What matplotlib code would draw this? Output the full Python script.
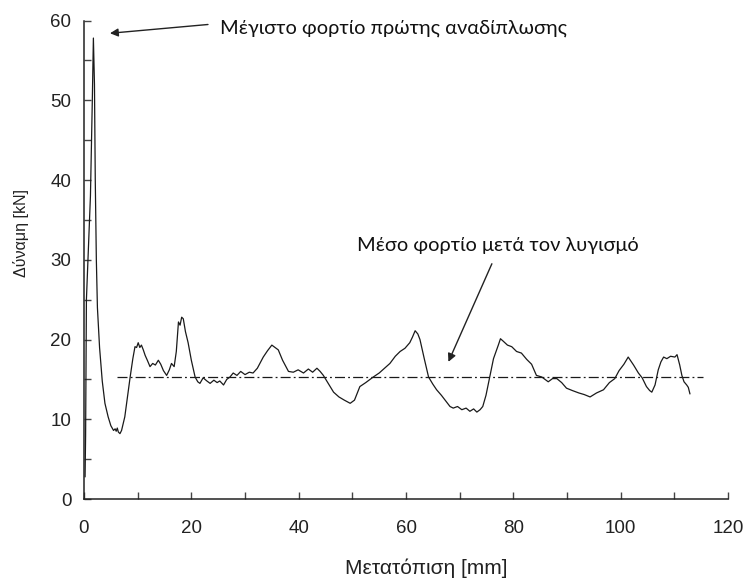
import matplotlib
matplotlib.use("Agg")
import matplotlib.pyplot as plt
import numpy as np

# displacement [mm] and force [kN]
metatopisi = [0.2, 0.3, 0.45, 0.8, 1.2, 1.55, 1.75, 1.95, 2.1, 2.3, 2.5, 2.9, 3.4, 3.9, 4.5,
              5.0, 5.5, 5.8, 6.0, 6.2, 6.4, 6.7, 7.0, 7.6, 8.1, 8.6, 9.1, 9.5, 9.8, 10.1,
              10.4, 10.7, 11.05, 11.4, 11.8, 12.3, 12.8, 13.3, 13.85, 14.3, 14.8, 15.4,
              15.9, 16.3, 16.8, 17.2, 17.6, 17.9, 18.2, 18.5, 18.9, 19.4, 20.0, 20.7,
              21.2, 21.6, 22.2, 22.9, 23.5, 24.2, 24.8, 25.3, 26.0, 26.6, 27.2, 27.8,
              28.5, 29.2, 30.0, 30.8, 31.5, 32.3, 33.4, 34.2, 35.0, 35.6, 36.2, 37.0,
              38.1, 39.0, 39.9, 40.9, 41.8, 42.6, 43.4, 44.0, 44.6, 45.5, 46.5, 47.5,
              48.5, 49.6, 50.4, 51.4, 52.5, 53.9, 55.0, 56.0, 57.0, 58.0, 58.9, 59.8,
              60.7, 61.2, 61.7, 62.2, 62.6, 63.4, 64.2, 65.0, 65.7, 66.6, 67.5, 68.2,
              68.8, 69.6, 70.4, 71.2, 71.9, 72.6, 73.2, 73.8, 74.3, 74.9, 75.6, 76.3,
              77.2, 77.6, 78.1, 78.9, 79.7, 80.6, 81.5, 82.5, 83.4, 84.3, 85.3, 86.5,
              87.3, 88.1, 89.0, 89.9, 91.0, 92.2, 93.2, 94.3, 95.5, 96.8, 97.9, 98.9,
              99.7, 100.6, 101.4, 101.9, 102.4, 103.3, 104.0, 104.8, 105.4, 105.8,
              106.4, 107.0, 107.5, 108.0, 108.6, 109.3, 110.1, 110.5, 111.0, 111.4,
              111.8, 112.3, 112.6, 112.9]
dynami = [2.8, 8.0, 25.0, 31.0, 38.0, 50.0, 57.8, 52.0, 40.0, 30.0, 24.0, 19.0, 14.8, 12.0, 10.3,
          9.2, 8.6, 8.8, 8.5, 8.9, 8.4, 8.2, 8.6, 10.3, 12.8, 15.3, 17.6, 19.1, 19.0, 19.6,
          19.0, 19.3, 18.7, 18.0, 17.4, 16.6, 17.0, 16.8, 17.4, 16.9, 16.1, 15.5,
          16.2, 17.0, 16.6, 18.5, 22.2, 21.8, 22.8, 22.6, 21.0, 19.6, 17.4, 15.3,
          14.7, 14.5, 15.2, 14.8, 14.5, 14.9, 14.6, 14.8, 14.3, 15.0, 15.3, 15.8,
          15.5, 16.0, 15.6, 15.9, 15.8, 16.4, 17.8, 18.6, 19.3, 19.0, 18.7, 17.4,
          16.0, 15.9, 16.2, 15.8, 16.3, 15.9, 16.4, 16.0, 15.5, 14.5, 13.4, 12.8,
          12.4, 12.0, 12.4, 14.1, 14.6, 15.3, 15.8, 16.4, 17.0, 17.9, 18.5, 18.9,
          19.6, 20.3, 21.1, 20.7, 20.0, 17.6, 15.3, 14.4, 13.7, 13.0, 12.2, 11.6,
          11.4, 11.6, 11.2, 11.4, 11.0, 11.3, 10.9, 11.2, 11.6, 13.0, 15.3, 17.6,
          19.3, 20.1, 19.8, 19.3, 19.1, 18.5, 18.3, 17.5, 16.9, 15.5, 15.3, 14.7,
          15.1, 15.1, 14.6, 13.9, 13.6, 13.3, 13.1, 12.8, 13.3, 13.7, 14.6, 15.1,
          16.1, 16.9, 17.8, 17.3, 16.8, 15.8, 15.2, 14.1, 13.6, 13.4, 14.3, 16.2,
          17.2, 17.8, 17.6, 17.9, 17.8, 18.1, 16.8, 15.5, 14.7, 14.3, 14.0, 13.2]

mesi_timi = 15.3
mesi_x = [6.1, 115.4]

fig = plt.figure(figsize=(7.46, 5.81), dpi=100)
ax = fig.add_axes([0.1126, 0.1411, 0.8633, 0.8236])

ax.plot(metatopisi, dynami, color="#1a1a1a", lw=0.9)
ax.plot(mesi_x, [mesi_timi, mesi_timi], color="#1a1a1a", lw=0.9, dashes=[8, 2.5, 1.5, 2.5])

ax.set_xlim(0, 120)
ax.set_ylim(0, 60)
ax.set_xticks(np.arange(0, 121, 10))
ax.set_xticklabels([str(v) if v % 20 == 0 else "" for v in range(0, 121, 10)])
ax.set_yticks(np.arange(0, 61, 5))
ax.set_yticklabels([str(v) if v % 10 == 0 else "" for v in range(0, 61, 5)])

for s in ["top", "right"]:
    ax.spines[s].set_visible(False)
for s in ["left", "bottom"]:
    ax.spines[s].set_linewidth(1.1)
    ax.spines[s].set_color("#222222")

ax.tick_params(direction="in", length=5, width=1.0, color="#444444",
               labelsize=13.5, labelcolor="#222222", labelfontfamily="Liberation Sans")
ax.tick_params(axis="x", pad=15)
ax.tick_params(axis="y", pad=9)

ax.set_xlabel("Μετατόπιση [mm]", fontsize=15, family="Liberation Sans", color="#222222")
ax.xaxis.set_label_coords(0.531, -0.125)
ax.set_ylabel("Δύναμη [kN]", fontsize=11.5, family="Liberation Sans", color="#222222")
ax.yaxis.set_label_coords(-0.086, 0.556)

ax.annotate("", xy=(4.84, 58.4), xytext=(23.1, 59.5),
            arrowprops=dict(arrowstyle="-|>", color="#222222", lw=1.0,
                            mutation_scale=12, shrinkA=0, shrinkB=0))
ax.text(25.3, 59.0, "Μέγιστο φορτίο πρώτης αναδίπλωσης", fontsize=14.4,
        family="Lato", va="center", ha="left", color="#111111")

ax.annotate("", xy=(67.9, 17.2), xytext=(76.0, 29.5),
            arrowprops=dict(arrowstyle="-|>", color="#222222", lw=1.0,
                            mutation_scale=12, shrinkA=0, shrinkB=0))
ax.text(50.9, 31.8, "Μέσο φορτίο μετά τον λυγισμό", fontsize=14.4,
        family="Lato", va="center", ha="left", color="#111111")

fig.savefig("out.png", dpi=100)
